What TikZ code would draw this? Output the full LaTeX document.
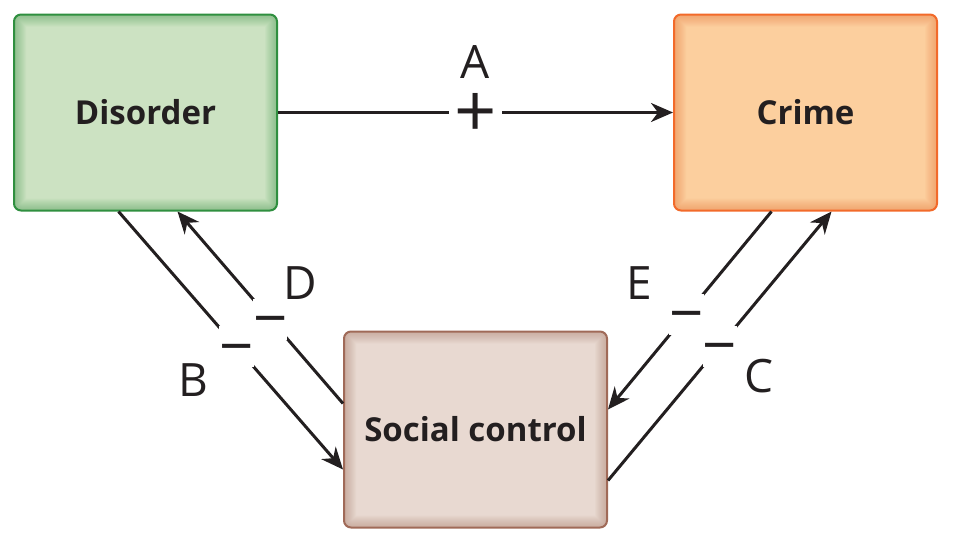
\documentclass[tikz,border=0pt]{standalone}
\usepackage{fontspec}
\setmainfont{Open Sans}
\usetikzlibrary{positioning}
\usetikzlibrary{calc}
\usetikzlibrary{arrows.meta}

\definecolor{texto}{HTML}{231F20}
\definecolor{verdeborda}{HTML}{2F8F3F}
\definecolor{verdefundo}{HTML}{CCE2C2}
\definecolor{laranjaborda}{HTML}{F26A2A}
\definecolor{laranjafundo}{HTML}{FCCF9E}
\definecolor{marromborda}{HTML}{A06A58}
\definecolor{marromfundo}{HTML}{E8D9D1}

\begin{document}
\begin{tikzpicture}[x=1pt,y=-1pt,
    caixa/.style 2 args={draw=#1, fill=#2, line width=2pt, rounded corners=7pt,
        minimum width=263pt, minimum height=196pt, inner sep=0pt, text=texto,
        font=\fontsize{33}{40}\selectfont\bfseries,
        path picture={\foreach \k in {1,...,12}
            \draw[#1, line width=2*\k pt, opacity=0.035, rounded corners=7pt]
                (path picture bounding box.north west) rectangle
                (path picture bounding box.south east);}},
    seta/.style={-{Stealth[length=22pt,width=19pt,inset=7pt]}, line width=3pt, draw=texto},
    sinal/.style={fill=white, inner sep=0pt, text=texto, minimum width=30pt,
        text height=41pt, text depth=-17pt, font=\fontsize{60}{64}\selectfont},
    soma/.style={sinal, minimum width=53pt,
        text height=49pt, text depth=-29pt, font=\fontsize{74}{78}\selectfont},
    rotulo/.style={text=texto, inner sep=0pt, font=\fontsize{46}{50}\selectfont}]
    \useasboundingbox (0,0) rectangle (955,544);

    % Caixas
    \node [caixa={verdeborda}{verdefundo}] (disorder) at (145.5,112.5) {Disorder};
    \node [caixa={laranjaborda}{laranjafundo}] (crime) at (805.5,112.5) {Crime};
    \node [caixa={marromborda}{marromfundo}] (control) at (475.5,429.5) {Social control};

    % Conexões
    \draw [seta] (disorder) -- node [soma, pos=0.5] (sinalA) {+} (crime);
    \draw [seta] ([xshift=-27pt]disorder.south) -- node [sinal, pos=0.525] (sinalB) {−} ([yshift=-40pt]control.west);
    \draw [seta] ([yshift=26pt]control.west) -- node [sinal, pos=0.44] (sinalD) {−} ([xshift=32pt]disorder.south);
    \draw [seta] ([xshift=-34pt]crime.south) -- node [sinal, pos=0.52] (sinalE) {−} ([yshift=20pt]control.east);
    \draw [seta] ([yshift=-51pt]control.east) -- node [sinal, pos=0.5] (sinalC) {−} ([xshift=26pt]crime.south);

    % Rótulos
    \node [rotulo] (rotA) at (475,62) {A};
    \node [rotulo] (rotB) at (193,380) {B};
    \node [rotulo] (rotC) at (759,376) {C};
    \node [rotulo] (rotD) at (300,283) {D};
    \node [rotulo] (rotE) at (639,283) {E};
\end{tikzpicture}
\end{document}
